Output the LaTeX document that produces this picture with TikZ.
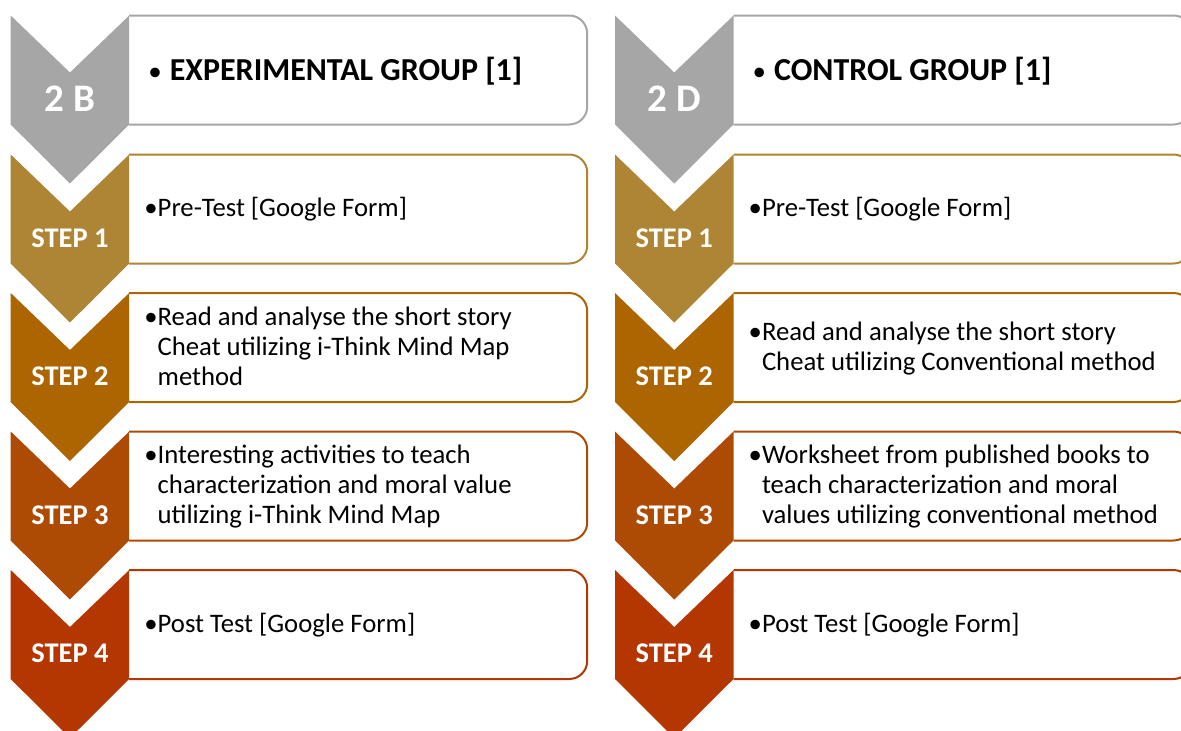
\documentclass[tikz,border=0pt]{standalone}
\usepackage{fontspec}
\setmainfont{Carlito}
\definecolor{rowgray}{HTML}{A6A6A6}
\definecolor{rowone}{HTML}{AE8534}
\definecolor{rowtwo}{HTML}{AC6500}
\definecolor{rowthree}{HTML}{AD4B05}
\definecolor{rowfour}{HTML}{B43600}
\tikzset{
  stepbox/.style={draw=#1, line width=2pt, fill=white},
  steplabel/.style={text=white, inner sep=0pt, font=\fontsize{28.5}{32}\selectfont\bfseries},
  bodytext/.style={anchor=west, inner sep=0pt, align=left, font=\fontsize{26.7}{30}\selectfont},
  titletext/.style={anchor=west, inner sep=0pt, align=left, font=\fontsize{32}{38}\selectfont\bfseries},
}
% one row: chevron on the left, rounded box on the right
% #1 x of chevron, #2 top, #3 colour, #4 name, #5 chevron label, #6 text style, #7 text
\newcommand\chevrow[7]{%
  \begin{scope}[shift={(#1,#2)}]
    \draw[stepbox=#3] (118.5,0) -- (558.5,0)
      arc[start angle=-90, end angle=0, radius=18] -- (576.5,91)
      arc[start angle=0, end angle=90, radius=18] -- (118.5,109);
    \fill[#3] (0,0) -- (59.25,57) -- (118.5,0) -- (118.5,109)
      -- (59.25,168) -- (0,109) -- cycle;
    \node[steplabel] (#4-label) at (59.25,83.5) {#5};
    \node[#6] (#4-text) at (133.5,56) {#7};
  \end{scope}}
\newcommand\bulletlines[1]{\begin{tabular}{@{}l@{}l@{}}#1\end{tabular}}
\newcommand\titlebullet{\hspace{4pt}{\mdseries\fontsize{27}{30}\selectfont •}\hspace{8pt}}
\begin{document}
\begin{tikzpicture}[x=1pt, y=-1pt]
  \useasboundingbox (0,0) rectangle (1181,731);
  \clip (0,0) rectangle (1181,731);

  % left column: experimental group
  \chevrow{10.7}{15.5}{rowgray}{ltitle}{\fontsize{39}{42}\selectfont 2 B}{titletext}
    {\titlebullet EXPERIMENTAL GROUP [1]}
  \chevrow{10.7}{154.5}{rowone}{lone}{STEP 1}{bodytext}
    {\bulletlines{•&Pre-Test [Google Form]}}
  \chevrow{10.7}{293}{rowtwo}{ltwo}{STEP 2}{bodytext}
    {\bulletlines{•&Read and analyse the short story\\&Cheat utilizing i-Think Mind Map\\&method}}
  \chevrow{10.7}{431.5}{rowthree}{lthree}{STEP 3}{bodytext}
    {\bulletlines{•&Interesting activities to teach\\&characterization and moral value\\&utilizing i-Think Mind Map}}
  \chevrow{10.7}{570}{rowfour}{lfour}{STEP 4}{bodytext}
    {\bulletlines{•&Post Test [Google Form]}}

  % right column: control group
  \chevrow{615}{15.5}{rowgray}{rtitle}{\fontsize{39}{42}\selectfont 2 D}{titletext}
    {\titlebullet CONTROL GROUP [1]}
  \chevrow{615}{154.5}{rowone}{rone}{STEP 1}{bodytext}
    {\bulletlines{•&Pre-Test [Google Form]}}
  \chevrow{615}{293}{rowtwo}{rtwo}{STEP 2}{bodytext}
    {\bulletlines{•&Read and analyse the short story\\&Cheat utilizing Conventional method}}
  \chevrow{615}{431.5}{rowthree}{rthree}{STEP 3}{bodytext}
    {\bulletlines{•&Worksheet from published books to\\&teach characterization and moral\\&values utilizing conventional method}}
  \chevrow{615}{570}{rowfour}{rfour}{STEP 4}{bodytext}
    {\bulletlines{•&Post Test [Google Form]}}
\end{tikzpicture}
\end{document}
